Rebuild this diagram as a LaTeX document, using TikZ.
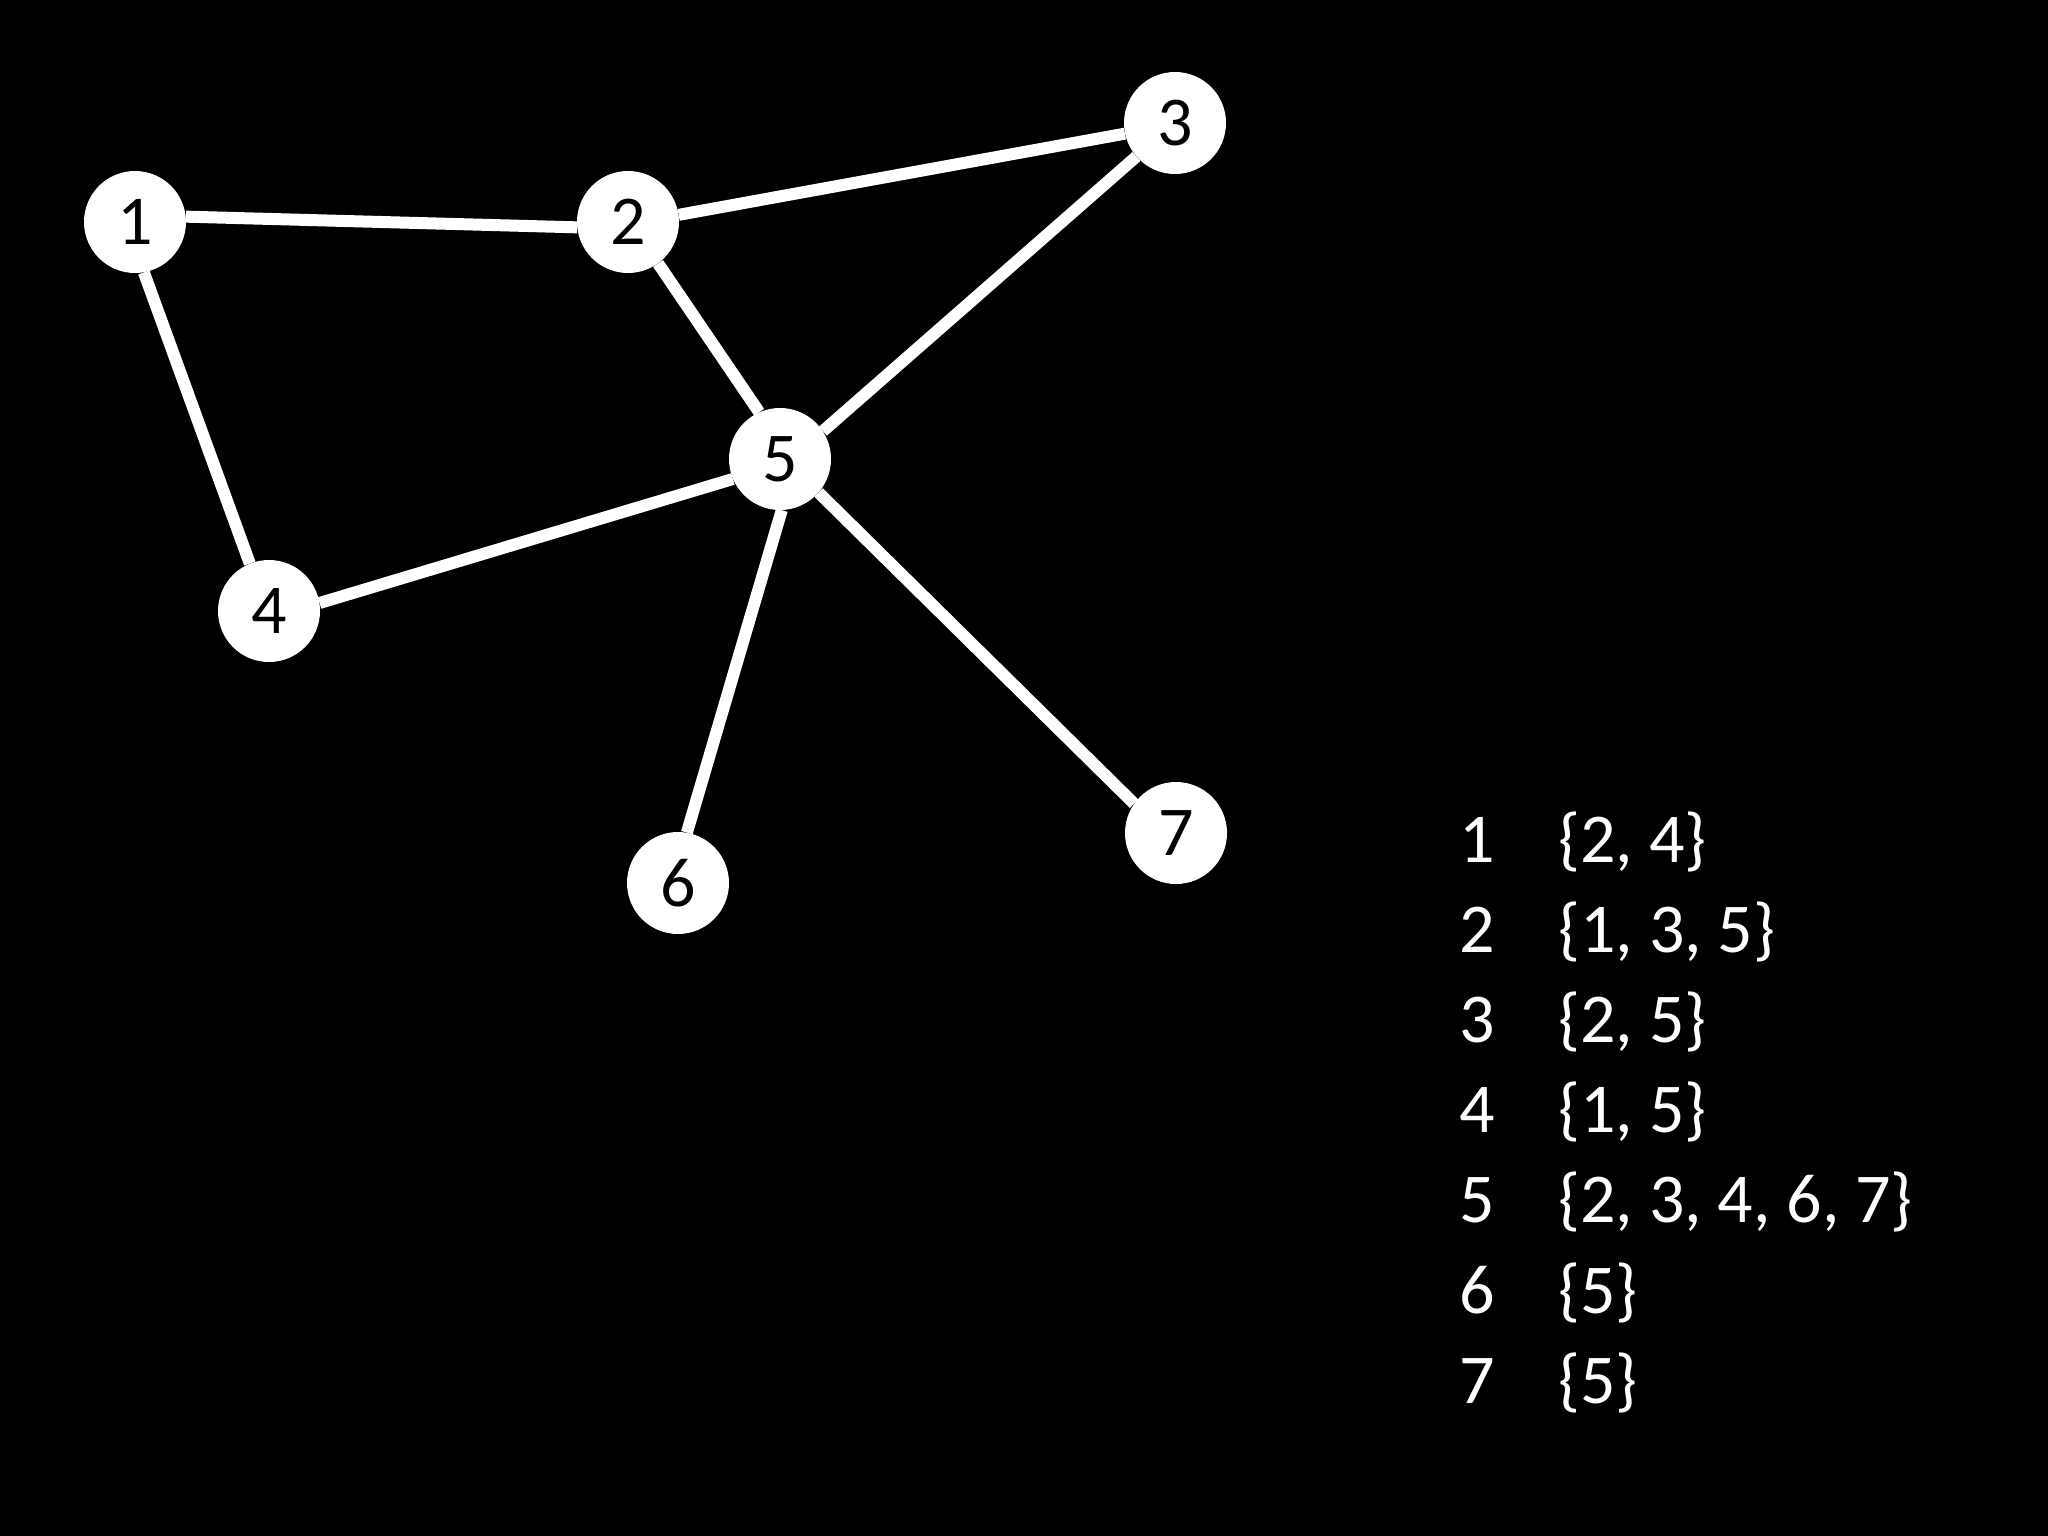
\documentclass[tikz,border=0pt]{standalone}
\usepackage{fontspec}
\setmainfont{Carlito}
\pgfdeclarelayer{bg}
\pgfdeclarelayer{edges}
\pgfsetlayers{bg,edges,main}
\begin{document}
\begin{tikzpicture}[x=1pt,y=-1pt,
  vtx/.style={circle,fill=white,draw=none,minimum size=102pt,inner sep=0pt,text=black,font=\fontsize{70}{84}\selectfont},
  edge/.style={draw=white,line width=12pt},
  num/.style={anchor=base,text=white,font=\fontsize{70}{84}\selectfont},
  nset/.style={anchor=base west,text=white,font=\fontsize{70}{84}\selectfont,inner sep=0pt}]
\begin{pgfonlayer}{bg}
\fill[black] (0,0) rectangle (2048,1536);
\end{pgfonlayer}
\useasboundingbox (0,0) rectangle (2048,1536);
\node[vtx] (n1) at (135,222) {1};
\node[vtx] (n2) at (628,222) {2};
\node[vtx] (n3) at (1175,123) {3};
\node[vtx] (n4) at (269,611) {4};
\node[vtx] (n5) at (780,459) {5};
\node[vtx] (n6) at (678,883) {6};
\node[vtx] (n7) at (1176,833) {7};
\begin{pgfonlayer}{edges}
\draw[edge] (n1.6) -- (n2.186);
\draw[edge] (n2.8) -- (n3.192);
\draw[edge] (n1.-80) -- (n4.112);
\draw[edge] (n2.-54) -- (n5.114);
\draw[edge] (n3.221) -- (n5.33);
\draw[edge] (n4.9) -- (n5.203);
\draw[edge] (n5.-88) -- (n6.80);
\draw[edge] (n5.-41) -- (n7.145);
\end{pgfonlayer}
\node[num] (k1) at (1477,862) {1};
\node[num] (k2) at (1477,952) {2};
\node[num] (k3) at (1477,1042) {3};
\node[num] (k4) at (1477,1132) {4};
\node[num] (k5) at (1477,1222) {5};
\node[num] (k6) at (1477,1313) {6};
\node[num] (k7) at (1477,1403) {7};
\node[nset] (s1) at (1558,862) {\{2, 4\}};
\node[nset] (s2) at (1558,952) {\{1, 3, 5\}};
\node[nset] (s3) at (1558,1042) {\{2, 5\}};
\node[nset] (s4) at (1558,1132) {\{1, 5\}};
\node[nset] (s5) at (1558,1222) {\{2, 3, 4, 6, 7\}};
\node[nset] (s6) at (1558,1313) {\{5\}};
\node[nset] (s7) at (1558,1403) {\{5\}};
\end{tikzpicture}
\end{document}
